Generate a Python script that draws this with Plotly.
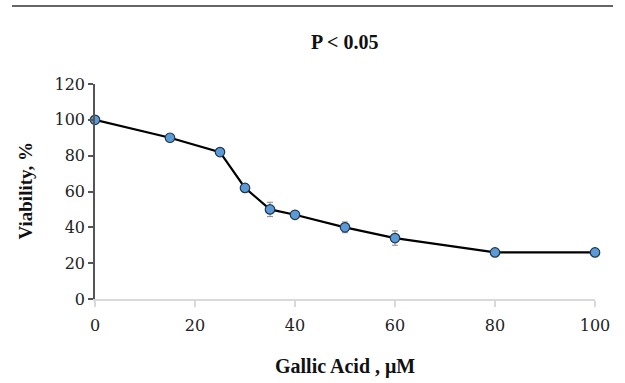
import plotly.graph_objects as go

conc = [0, 15, 25, 30, 35, 40, 50, 60, 80, 100]
viability = [100, 90, 82, 62, 50, 47, 40, 34, 26, 26]
err = [1, 2, 1.5, 2, 4, 1, 3, 4, 2, 2]
x_ticks = [0, 20, 40, 60, 80, 100]
y_ticks = [0, 20, 40, 60, 80, 100, 120]

fig = go.Figure()
fig.add_trace(go.Scatter(
    x=conc, y=viability, mode="lines+markers",
    line=dict(color="black", width=2.2),
    marker=dict(size=9.5, color="#5b9bd5", line=dict(color="#1f3550", width=1.2)),
    error_y=dict(type="data", array=err, color="#888888", thickness=1, width=3),
    cliponaxis=False, showlegend=False,
))

tick_font = "DejaVu Serif, serif"
title_font = "Liberation Serif, serif"
fig.update_layout(
    width=625, height=383,
    margin=dict(l=95, r=30, t=84, b=84),
    paper_bgcolor="white", plot_bgcolor="white",
    font=dict(family=tick_font, size=16, color="#222222"),
    xaxis=dict(range=[0, 100], tickvals=x_ticks, showgrid=False, zeroline=False,
               showline=True, linecolor="#d9d9d9", linewidth=1.5,
               ticks="outside", ticklen=6, tickcolor="#d9d9d9", tickwidth=1.5,
               ticklabelstandoff=5,
               tickfont=dict(size=16, family=tick_font, color="#222222")),
    yaxis=dict(range=[0, 120], tickvals=y_ticks, showgrid=False, zeroline=False,
               showline=True, linecolor="#555555", linewidth=1.5,
               ticks="outside", ticklen=5, tickcolor="#555555", tickwidth=1.5,
               tickfont=dict(size=16, family=tick_font, color="#222222")),
)

fig.add_shape(type="line", xref="paper", yref="paper",
              x0=-0.166, x1=1.036, y0=1.363, y1=1.363,
              line=dict(color="#666666", width=2))
fig.add_annotation(text="<b>P < 0.05</b>", xref="paper", yref="paper",
                   x=0.5, y=1.195, xanchor="center", yanchor="middle", showarrow=False,
                   font=dict(size=20, family=title_font, color="#111111"))
fig.add_annotation(text="<b>Gallic Acid , μM</b>", xref="paper", yref="paper",
                   x=0.5, y=-0.312, xanchor="center", yanchor="middle", showarrow=False,
                   font=dict(size=20, family=title_font, color="#111111"))
fig.add_annotation(text="<b>Viability, %</b>", xref="paper", yref="paper",
                   x=-0.14, y=0.5, xanchor="center", yanchor="middle", showarrow=False,
                   textangle=-90,
                   font=dict(size=19, family=title_font, color="#111111"))

fig.write_html("out.html", config={"displayModeBar": False},
               post_script="document.body.style.margin='0';")
